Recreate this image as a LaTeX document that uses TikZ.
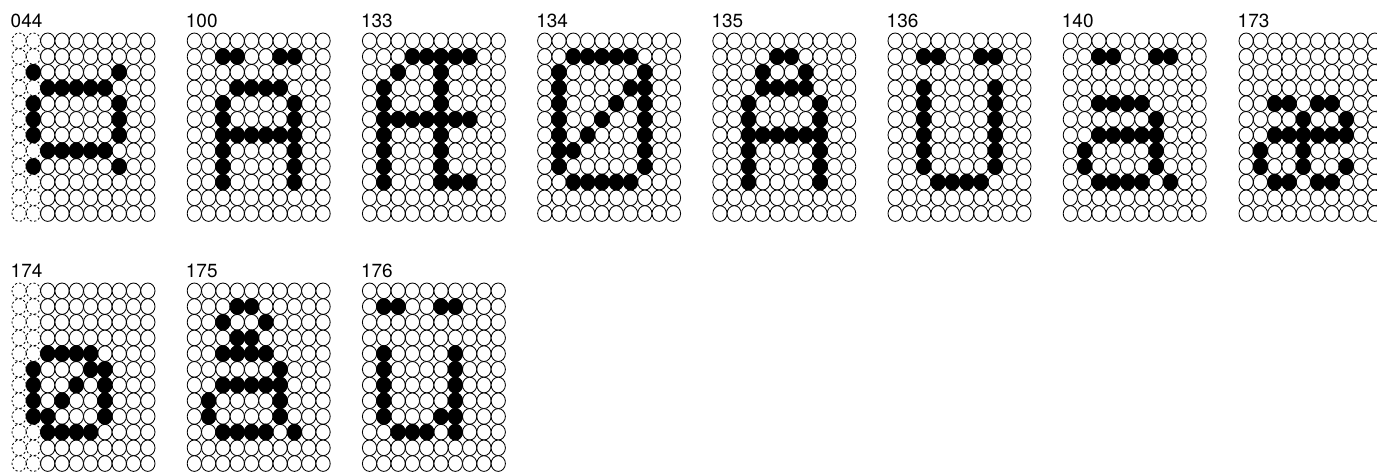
\documentclass[tikz,border=0pt]{standalone}
\usepackage{fontspec}
\newfontfamily\labfont{TeX Gyre Heros}
\newcommand\labsize{\fontsize{19}{20}\selectfont}
\tikzset{
  dotoff/.style={draw=black, line width=0.85pt, fill=white},
  dotdash/.style={draw=black, line width=0.85pt, dash pattern=on 2.2pt off 2.2pt},
  doton/.style={fill=black, draw=black, line width=0.85pt},
  codelabel/.style={anchor=base west, inner sep=0pt}
}
% #1 node name, #2 left x, #3 top y, #4 label, #5 dashed columns, #6 filled list
\newcommand\chargrid[6]{%
  \node[codelabel] (#1) at (#2-1.5,#3-5) {\labfont\labsize #4};
  \begin{scope}[shift={(#2,#3)}]
    \foreach \c in {0,...,9}{\foreach \r in {0,...,11}{%
      \ifnum\c<#5\relax
        \draw[dotdash] ({\c*14.3+7.15},{\r*15.7+7.85}) ellipse[x radius=7.15, y radius=7.85];
      \else
        \draw[dotoff] ({\c*14.3+7.15},{\r*15.7+7.85}) ellipse[x radius=7.15, y radius=7.85];
      \fi}}
    \foreach \c/\r in {#6}{%
      \draw[doton] ({\c*14.3+7.15},{\r*15.7+7.85}) ellipse[x radius=7.15, y radius=7.85];}
  \end{scope}}
\begin{document}
\begin{tikzpicture}[x=1pt,y=-1pt]
\fill[white] (0,0) rectangle (1377,473);
\useasboundingbox (0,0) rectangle (1377,473);
\chargrid{g044}{12}{33}{044}{2}{1/2,7/2,2/3,3/3,4/3,5/3,6/3,1/4,7/4,1/5,7/5,1/6,7/6,2/7,3/7,4/7,5/7,6/7,1/8,7/8}
\chargrid{g100}{187.2}{33}{100}{0}{2/1,3/1,6/1,7/1,3/3,4/3,5/3,6/3,2/4,7/4,2/5,7/5,2/6,3/6,4/6,5/6,6/6,7/6,2/7,7/7,2/8,7/8,2/9,7/9}
\chargrid{g133}{362.4}{33}{133}{0}{3/1,4/1,5/1,6/1,7/1,2/2,5/2,1/3,5/3,1/4,5/4,1/5,2/5,3/5,4/5,5/5,6/5,7/5,1/6,5/6,1/7,5/7,1/8,5/8,1/9,5/9,6/9,7/9}
\chargrid{g134}{537.6}{33}{134}{0}{2/1,3/1,4/1,5/1,6/1,1/2,7/2,1/3,6/3,7/3,1/4,5/4,7/4,1/5,4/5,7/5,1/6,3/6,7/6,1/7,2/7,7/7,1/8,7/8,2/9,3/9,4/9,5/9,6/9}
\chargrid{g135}{712.8}{33}{135}{0}{4/1,5/1,3/2,6/2,3/3,4/3,5/3,6/3,2/4,7/4,2/5,7/5,2/6,3/6,4/6,5/6,6/6,7/6,2/7,7/7,2/8,7/8,2/9,7/9}
\chargrid{g136}{888}{33}{136}{0}{2/1,3/1,6/1,7/1,2/3,2/4,2/5,2/6,2/7,2/8,7/3,7/4,7/5,7/6,7/7,7/8,3/9,4/9,5/9,6/9}
\chargrid{g140}{1063.2}{33}{140}{0}{2/1,3/1,6/1,7/1,2/4,3/4,4/4,5/4,6/5,2/6,3/6,4/6,5/6,6/6,1/7,6/7,1/8,6/8,2/9,3/9,4/9,5/9,7/9}
\chargrid{g173}{1239}{33}{173}{0}{2/4,3/4,5/4,6/4,4/5,7/5,2/6,3/6,4/6,5/6,6/6,7/6,1/7,4/7,1/8,4/8,7/8,2/9,3/9,5/9,6/9}
\chargrid{g174}{12}{283}{174}{2}{2/4,3/4,4/4,5/4,1/5,5/5,6/5,1/6,4/6,6/6,1/7,3/7,6/7,1/8,2/8,6/8,2/9,3/9,4/9,5/9}
\chargrid{g175}{187.2}{283}{175}{0}{3/1,4/1,2/2,5/2,3/3,4/3,2/4,3/4,4/4,5/4,6/5,2/6,3/6,4/6,5/6,6/6,1/7,6/7,1/8,6/8,2/9,3/9,4/9,5/9,7/9}
\chargrid{g176}{362.4}{283}{176}{0}{1/1,2/1,5/1,6/1,1/4,6/4,1/5,6/5,1/6,6/6,1/7,6/7,1/8,5/8,6/8,2/9,3/9,4/9,6/9}
\end{tikzpicture}
\end{document}
